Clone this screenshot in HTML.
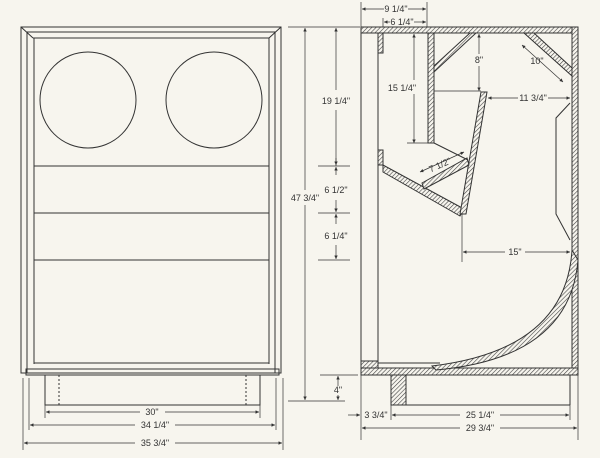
<!DOCTYPE html>
<html><head><meta charset="utf-8"><style>
html,body{margin:0;padding:0;background:#f7f5ee;}
svg{display:block;}
text{font-family:"Liberation Sans",sans-serif;font-size:9px;fill:#333;}
</style></head><body>
<svg width="600" height="458" viewBox="0 0 600 458" xmlns="http://www.w3.org/2000/svg">
<defs>
<pattern id="h" width="3" height="3" patternUnits="userSpaceOnUse" patternTransform="rotate(45)">
<rect width="3" height="3" fill="#f7f5ee"/><line x1="0" y1="0" x2="0" y2="3" stroke="#444" stroke-width="1.2"/>
</pattern>
<marker id="a" viewBox="0 0 6 6" refX="6" refY="3" markerWidth="5" markerHeight="5" orient="auto-start-reverse"><path d="M0,0L6,3L0,6z" fill="#333"/></marker>
</defs>
<rect width="600" height="458" fill="#f7f5ee"/>
<g stroke="#333" fill="none" stroke-width="1">
<!-- FRONT VIEW -->
<rect x="21" y="27" width="260" height="346"/>
<rect x="27" y="32" width="248" height="341"/>
<line x1="33" y1="38" x2="269" y2="38"/>
<line x1="34" y1="38" x2="34" y2="364"/>
<line x1="269" y1="38" x2="269" y2="364"/>
<line x1="21" y1="27" x2="33" y2="38"/><line x1="281" y1="27" x2="269" y2="38"/>
<circle cx="88" cy="100" r="48"/>
<circle cx="214" cy="100" r="48"/>
<line x1="34" y1="166" x2="269" y2="166"/>
<line x1="34" y1="213" x2="269" y2="213"/>
<line x1="34" y1="260" x2="269" y2="260"/>
<line x1="34" y1="363" x2="269" y2="363"/>
<rect x="26" y="369" width="253" height="6"/>
<rect x="45" y="375" width="215" height="30"/>
<line x1="59" y1="375" x2="59" y2="405" stroke-dasharray="2,2"/>
<line x1="246" y1="375" x2="246" y2="405" stroke-dasharray="2,2"/>
<line x1="23" y1="378" x2="23" y2="450" stroke-width=".7"/>
<line x1="283" y1="378" x2="283" y2="450" stroke-width=".7"/>
<line x1="29" y1="378" x2="29" y2="430" stroke-width=".7"/>
<line x1="276" y1="378" x2="276" y2="430" stroke-width=".7"/>
<line x1="45" y1="405" x2="45" y2="418" stroke-width=".7"/>
<line x1="260" y1="405" x2="260" y2="418" stroke-width=".7"/>
<line x1="46" y1="412" x2="140" y2="412" marker-start="url(#a)" stroke-width=".7"/>
<line x1="165" y1="412" x2="259" y2="412" marker-end="url(#a)" stroke-width=".7"/>
<line x1="30" y1="425" x2="135" y2="425" marker-start="url(#a)" stroke-width=".7"/>
<line x1="175" y1="425" x2="275" y2="425" marker-end="url(#a)" stroke-width=".7"/>
<line x1="24" y1="443" x2="135" y2="443" marker-start="url(#a)" stroke-width=".7"/>
<line x1="175" y1="443" x2="282" y2="443" marker-end="url(#a)" stroke-width=".7"/>

<!-- VERTICAL DIMS -->
<line x1="288" y1="27" x2="360" y2="27" stroke-width=".7"/>
<line x1="305" y1="28" x2="305" y2="190" marker-start="url(#a)" stroke-width=".7"/>
<line x1="305" y1="205" x2="305" y2="400" marker-end="url(#a)" stroke-width=".7"/>
<line x1="288" y1="401" x2="345" y2="401" stroke-width=".7"/>
<line x1="336" y1="28" x2="336" y2="90" marker-start="url(#a)" stroke-width=".7"/>
<line x1="336" y1="110" x2="336" y2="165" marker-end="url(#a)" stroke-width=".7"/>
<line x1="318" y1="166" x2="350" y2="166" stroke-width=".7"/>
<line x1="336" y1="158" x2="336" y2="166" stroke-width=".7"/>
<line x1="336" y1="175" x2="336" y2="167" marker-end="url(#a)" stroke-width=".7"/>
<line x1="318" y1="213" x2="350" y2="213" stroke-width=".7"/>
<line x1="336" y1="200" x2="336" y2="212" marker-end="url(#a)" stroke-width=".7"/>
<line x1="336" y1="224" x2="336" y2="214" marker-end="url(#a)" stroke-width=".7"/>
<line x1="318" y1="260" x2="350" y2="260" stroke-width=".7"/>
<line x1="336" y1="245" x2="336" y2="259" marker-end="url(#a)" stroke-width=".7"/>
<line x1="320" y1="375" x2="358" y2="375" stroke-width=".7"/>
<line x1="338" y1="376" x2="338" y2="386" marker-start="url(#a)" stroke-width=".7"/>
<line x1="338" y1="395" x2="338" y2="400" marker-end="url(#a)" stroke-width=".7"/>

<!-- SIDE VIEW -->
<rect x="361" y="27" width="217" height="6" fill="url(#h)"/>
<rect x="572" y="27" width="6" height="348" fill="url(#h)"/>
<rect x="361" y="368" width="217" height="7" fill="url(#h)"/>
<line x1="361" y1="27" x2="361" y2="375"/>
<line x1="378" y1="33" x2="378" y2="368"/>
<rect x="378" y="33" width="5" height="20" fill="url(#h)"/>
<rect x="378" y="150" width="5" height="15" fill="url(#h)"/>
<rect x="361" y="361" width="17" height="7" fill="url(#h)"/>
<line x1="378" y1="363" x2="440" y2="363"/>
<rect x="428" y="33" width="6" height="110" fill="url(#h)"/>
<polygon points="434,66 470,33 476,33 434,72" fill="url(#h)"/>
<polygon points="383,165 383,172 460,216 464,209" fill="url(#h)"/>
<polygon points="481,92 487,92 466,214 460,214" fill="url(#h)"/>
<polygon points="422,183 467,158 469,165 424,189" fill="url(#h)"/>
<line x1="434" y1="143" x2="468" y2="160"/>
<polygon points="524,33 534,33 572,68 572,76" fill="url(#h)"/>
<polyline points="570,103 556,118 556,214 570,240"/>
<path d="M572,250 Q566,350 432,366 L436,370 Q570,358 578,260 Z" fill="url(#h)"/>
<rect x="391" y="375" width="15" height="30" fill="url(#h)"/>
<line x1="406" y1="405" x2="570" y2="405"/>
<line x1="570" y1="375" x2="570" y2="405"/>
<line x1="462" y1="213" x2="462" y2="262" stroke-width=".7"/>

<!-- side dims -->
<line x1="361" y1="2" x2="361" y2="27" stroke-width=".7"/>
<line x1="427" y1="2" x2="427" y2="27" stroke-width=".7"/>
<line x1="383" y1="18" x2="383" y2="27" stroke-width=".7"/>
<line x1="362" y1="9" x2="384" y2="9" marker-start="url(#a)" stroke-width=".7"/>
<line x1="408" y1="9" x2="426" y2="9" marker-end="url(#a)" stroke-width=".7"/>
<line x1="384" y1="22" x2="390" y2="22" marker-start="url(#a)" stroke-width=".7"/>
<line x1="414" y1="22" x2="426" y2="22" marker-end="url(#a)" stroke-width=".7"/>
<line x1="414" y1="34" x2="414" y2="80" marker-start="url(#a)" stroke-width=".7"/>
<line x1="414" y1="94" x2="414" y2="143" marker-end="url(#a)" stroke-width=".7"/>
<line x1="407" y1="143" x2="428" y2="143" stroke-width=".7"/>
<line x1="479" y1="34" x2="479" y2="54" marker-start="url(#a)" stroke-width=".7"/>
<line x1="479" y1="66" x2="479" y2="91" marker-end="url(#a)" stroke-width=".7"/>
<line x1="434" y1="91" x2="481" y2="91" stroke-width=".7"/>
<line x1="488" y1="98" x2="518" y2="98" marker-start="url(#a)" stroke-width=".7"/>
<line x1="548" y1="98" x2="570" y2="98" marker-end="url(#a)" stroke-width=".7"/>
<line x1="522" y1="45" x2="563" y2="82" stroke-width=".7" marker-start="url(#a)" marker-end="url(#a)"/>
<line x1="420" y1="172" x2="464" y2="152" stroke-width=".7" marker-start="url(#a)" marker-end="url(#a)"/>
<line x1="463" y1="252" x2="505" y2="252" marker-start="url(#a)" stroke-width=".7"/>
<line x1="525" y1="252" x2="570" y2="252" marker-end="url(#a)" stroke-width=".7"/>
<line x1="361" y1="375" x2="361" y2="440" stroke-width=".7"/>
<line x1="391" y1="405" x2="391" y2="420" stroke-width=".7"/>
<line x1="570" y1="405" x2="570" y2="420" stroke-width=".7"/>
<line x1="578" y1="375" x2="578" y2="440" stroke-width=".7"/>
<line x1="348" y1="415" x2="360" y2="415" marker-end="url(#a)" stroke-width=".7"/>
<line x1="392" y1="415" x2="460" y2="415" marker-start="url(#a)" stroke-width=".7"/>
<line x1="500" y1="415" x2="569" y2="415" marker-end="url(#a)" stroke-width=".7"/>
<line x1="362" y1="428" x2="460" y2="428" marker-start="url(#a)" stroke-width=".7"/>
<line x1="500" y1="428" x2="577" y2="428" marker-end="url(#a)" stroke-width=".7"/>
</g>
<g>
<text x="152" y="415" text-anchor="middle">30"</text>
<text x="155" y="428" text-anchor="middle">34 1/4"</text>
<text x="155" y="446" text-anchor="middle">35 3/4"</text>
<text x="305" y="201" text-anchor="middle">47 3/4"</text>
<text x="336" y="104" text-anchor="middle">19 1/4"</text>
<text x="336" y="193" text-anchor="middle">6 1/2"</text>
<text x="336" y="239" text-anchor="middle">6 1/4"</text>
<text x="338" y="393" text-anchor="middle">4"</text>
<text x="396" y="12" text-anchor="middle">9 1/4"</text>
<text x="402" y="25" text-anchor="middle">6 1/4"</text>
<text x="402" y="91" text-anchor="middle">15 1/4"</text>
<text x="479" y="63" text-anchor="middle">8"</text>
<text x="533" y="101" text-anchor="middle">11 3/4"</text>
<text x="537" y="64" text-anchor="middle">10"</text>
<text x="440" y="168" text-anchor="middle" transform="rotate(-24 440 165)">7 1/2"</text>
<text x="515" y="255" text-anchor="middle">15"</text>
<text x="376" y="418" text-anchor="middle">3 3/4"</text>
<text x="480" y="418" text-anchor="middle">25 1/4"</text>
<text x="480" y="431" text-anchor="middle">29 3/4"</text>
</g>
</svg>
</body></html>
